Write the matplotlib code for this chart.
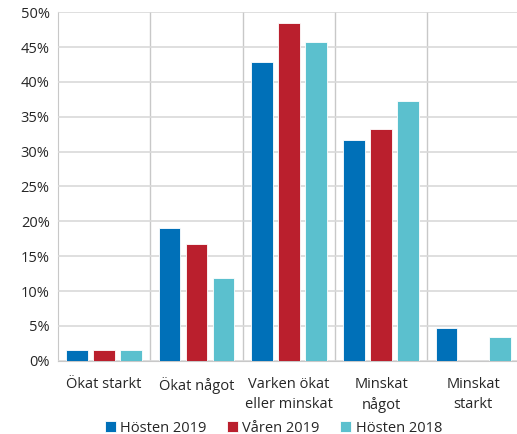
import matplotlib
matplotlib.use("Agg")
import matplotlib.pyplot as plt
from matplotlib.ticker import FuncFormatter, MultipleLocator
import numpy as np

categories = ["Ökat starkt", "Ökat något", "Varken ökat\neller minskat", "Minskat\nnågot", "Minskat\nstarkt"]
series_names = ["Hösten 2019", "Våren 2019", "Hösten 2018"]
hosten_2019 = [1.5, 19.0, 42.9, 31.7, 4.7]
varen_2019 = [1.5, 16.7, 48.5, 33.3, 0.0]
hosten_2018 = [1.6, 11.8, 45.8, 37.3, 3.4]
colors = ["#0070B8", "#BA1F2D", "#5BC0CE"]

plt.rcParams["font.family"] = ["Open Sans", "DejaVu Sans"]

fig = plt.figure(figsize=(5.17, 4.34), dpi=100)
ax = fig.add_axes([58 / 517, 1 - 360.7 / 434, (517 - 58) / 517, (360.7 - 12.3) / 434])

x = np.arange(len(categories))
width = 0.235
step = 0.292
for i, (vals, name, c) in enumerate(zip([hosten_2019, varen_2019, hosten_2018], series_names, colors)):
    ax.bar(x + (i - 1) * step, vals, width, color=c, edgecolor="white", linewidth=0.6,
           label=name, zorder=3)

ax.set_xlim(-0.5, 4.5 - 2.5 / 92.3)
ax.set_ylim(0, 50)
ax.yaxis.set_major_locator(MultipleLocator(5))
ax.yaxis.set_major_formatter(FuncFormatter(lambda v, p: f"{int(v)}%"))
ax.grid(axis="y", color="#D9D9D9", linewidth=1.2, zorder=0)
for b in [0.5, 1.5, 2.5, 3.5]:
    ax.axvline(b, color="#C8C8C8", linewidth=1.0, zorder=1)

ax.set_xticks(x)
ax.set_xticklabels(categories, fontsize=10.5, color="#262626", linespacing=1.38)
ax.tick_params(axis="x", length=0, pad=12)
ax.tick_params(axis="y", length=0, pad=6, labelsize=10.5, labelcolor="#262626")
for s in ["top", "right"]:
    ax.spines[s].set_visible(False)
ax.spines["left"].set_color("#C8C8C8")
ax.spines["bottom"].set_color("#C8C8C8")
ax.spines["left"].set_zorder(1)

leg = fig.legend(loc="center", bbox_to_anchor=(0.529, 1 - 428 / 434), ncol=3, frameon=False,
                 fontsize=10.5, handlelength=0.75, handleheight=0.75, handletextpad=0.3,
                 columnspacing=1.4)
for t in leg.get_texts():
    t.set_color("#262626")

fig.savefig("out.png", dpi=100)
